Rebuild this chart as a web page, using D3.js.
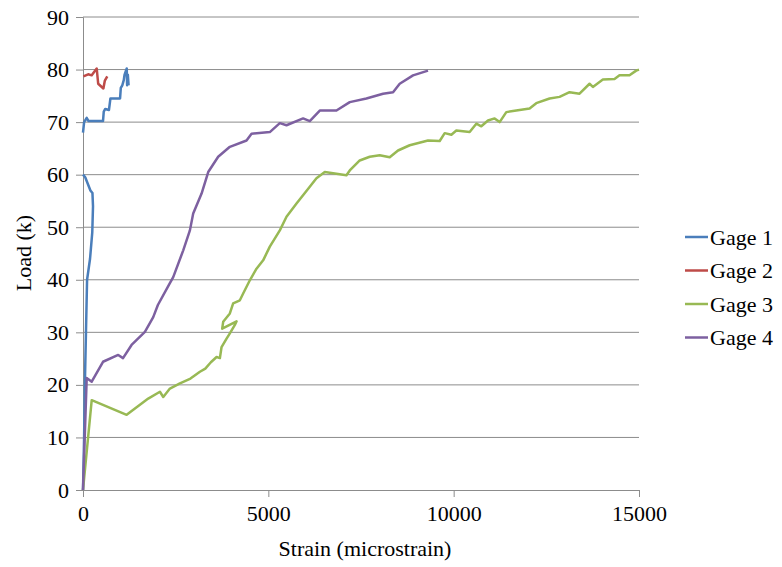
<!DOCTYPE html>
<html>
<head>
<meta charset="utf-8">
<script src="https://cdn.jsdelivr.net/npm/d3@7"></script>
</head>
<body style="margin:0; background:#fff">
<div id="chart"></div>
<script>
// Gage readings as [strain, load]; null marks a break in the line
const gage1 = [[0,0],[30,10],[50,20],[80,30],[110,40],[190,44],[250,49],[270,54],[255,56.5],[200,57],[60,59.5],[0,60],
  null,
  [0,68],[30,70],[100,70.8],[150,70.2],[540,70.2],[560,72],[600,72.5],[700,72.3],[740,74.5],[1000,74.5],[1020,76.5],
  [1060,77],[1100,78],[1120,79],[1180,80.2],[1190,77],[1210,79],[1230,77]];
const gage2 = [[10,78.7],[140,79.1],[235,78.9],[370,80.2],[410,77.3],[550,76.4],[590,77.9],[655,78.7]];
const gage3 = [[0,0],[235,17.1],[1178,14.3],[1760,17.4],[2075,18.7],[2165,17.7],[2345,19.3],[2615,20.3],[2900,21.2],
  [3154,22.5],[3300,23.1],[3450,24.3],[3604,25.3],[3693,25.1],[3738,27.2],[3873,28.8],[3962,29.8],[4097,31.4],
  [4143,32.1],[3755,30.7],[3782,32.0],[3962,33.6],[4051,35.5],[4232,36.1],[4321,37.4],[4501,39.9],[4681,42.1],
  [4860,43.7],[5040,46.3],[5310,49.4],[5490,52.0],[5760,54.5],[6118,57.7],[6298,59.3],[6523,60.5],[7107,59.9],
  [7197,60.8],[7466,62.7],[7736,63.4],[8005,63.7],[8275,63.3],[8499,64.6],[8814,65.6],[9308,66.5],[9623,66.4],
  [9758,67.9],[9938,67.6],[10072,68.4],[10431,68.1],[10611,69.7],[10746,69.2],[10926,70.3],[11105,70.7],
  [11240,70.0],[11420,71.9],[11689,72.2],[12049,72.6],[12228,73.6],[12588,74.5],[12857,74.8],[13127,75.7],
  [13396,75.4],[13666,77.3],[13756,76.7],[14025,78.1],[14340,78.2],[14474,78.9],[14744,78.9],[14924,79.8],[15000,80]];
const gage4 = [[0,0],[100,21.3],[235,20.6],[540,24.4],[950,25.7],[1080,25.1],[1310,27.6],[1670,30.1],[1895,32.9],
  [2020,35.2],[2340,39.3],[2434,40.5],[2704,45.6],[2884,49.4],[2973,52.6],[3199,56.4],[3378,60.5],[3647,63.4],
  [3962,65.3],[4412,66.5],[4547,67.8],[5040,68.1],[5310,69.8],[5490,69.4],[5938,70.7],[6118,70.2],[6388,72.2],
  [6838,72.2],[7197,73.8],[7646,74.5],[8095,75.4],[8365,75.7],[8544,77.3],[8904,78.9],[9308,79.8]];

const seriesNames = ["Gage 1", "Gage 2", "Gage 3", "Gage 4"];
const seriesColors = ["#4a7ebb", "#be4b48", "#98b954", "#7d60a0"];
const xTicks = [0, 5000, 10000, 15000];
const yTicks = [0, 10, 20, 30, 40, 50, 60, 70, 80, 90];

const W = 782, H = 567;
const margin = {top: 17, right: 143, bottom: 77, left: 83};
const width = W - margin.left - margin.right,
      height = H - margin.top - margin.bottom;
const fontSize = "22px";

// page default font is the serif one, so no font-family is set anywhere
const svg = d3.select("#chart").append("svg")
    .attr("width", W)
    .attr("height", H);
const g = svg.append("g")
    .attr("transform", "translate(" + margin.left + "," + margin.top + ")");

const x = d3.scaleLinear().domain([0, 15000]).range([0, width]);
const y = d3.scaleLinear().domain([0, 90]).range([height, 0]);

// gridlines
g.selectAll(".grid").data(yTicks.slice(1)).enter().append("line")
    .attr("x1", 0).attr("x2", width)
    .attr("y1", d => y(d)).attr("y2", d => y(d))
    .attr("stroke", "#8c8c8c").attr("stroke-width", 1);

// axes
const xAxis = g.append("g")
    .attr("transform", "translate(0," + height + ")")
    .call(d3.axisBottom(x).tickValues(xTicks).tickSize(7).tickPadding(8).tickFormat(d3.format("d")));
const yAxis = g.append("g")
    .call(d3.axisLeft(y).tickValues(yTicks).tickSize(7).tickPadding(7));
[xAxis, yAxis].forEach(a => {
  a.attr("font-family", null).attr("font-size", null);
  a.select(".domain").attr("stroke", "#8c8c8c");
  a.selectAll(".tick line").attr("stroke", "#8c8c8c");
  a.selectAll("text").style("font-size", fontSize).attr("fill", "#000");
});

// lines
const line = d3.line()
    .defined(d => d !== null)
    .x(d => x(d[0]))
    .y(d => y(d[1]));
const allData = [gage1, gage2, gage3, gage4];
g.selectAll(".series").data(allData).enter().append("path")
    .attr("class", "series")
    .attr("fill", "none")
    .attr("stroke", (d, i) => seriesColors[i])
    .attr("stroke-width", 2.5)
    .attr("stroke-linejoin", "round")
    .attr("d", line);

// axis titles
svg.append("text")
    .attr("x", margin.left + width / 2 + 4).attr("y", 556)
    .attr("text-anchor", "middle")
    .style("font-size", fontSize)
    .text("Strain (microstrain)");
svg.append("text")
    .attr("transform", "translate(31,253) rotate(-90)")
    .attr("text-anchor", "middle")
    .style("font-size", fontSize)
    .text("Load (k)");

// legend
const legend = svg.append("g").attr("transform", "translate(685,237)");
const item = legend.selectAll(".item").data(seriesNames).enter().append("g")
    .attr("transform", (d, i) => "translate(0," + i * 33.5 + ")");
item.append("line")
    .attr("x1", 0).attr("x2", 23)
    .attr("stroke", (d, i) => seriesColors[i]).attr("stroke-width", 2.5);
item.append("text")
    .attr("x", 25).attr("dy", "0.35em")
    .style("font-size", fontSize)
    .text(d => d);
</script>
</body>
</html>
